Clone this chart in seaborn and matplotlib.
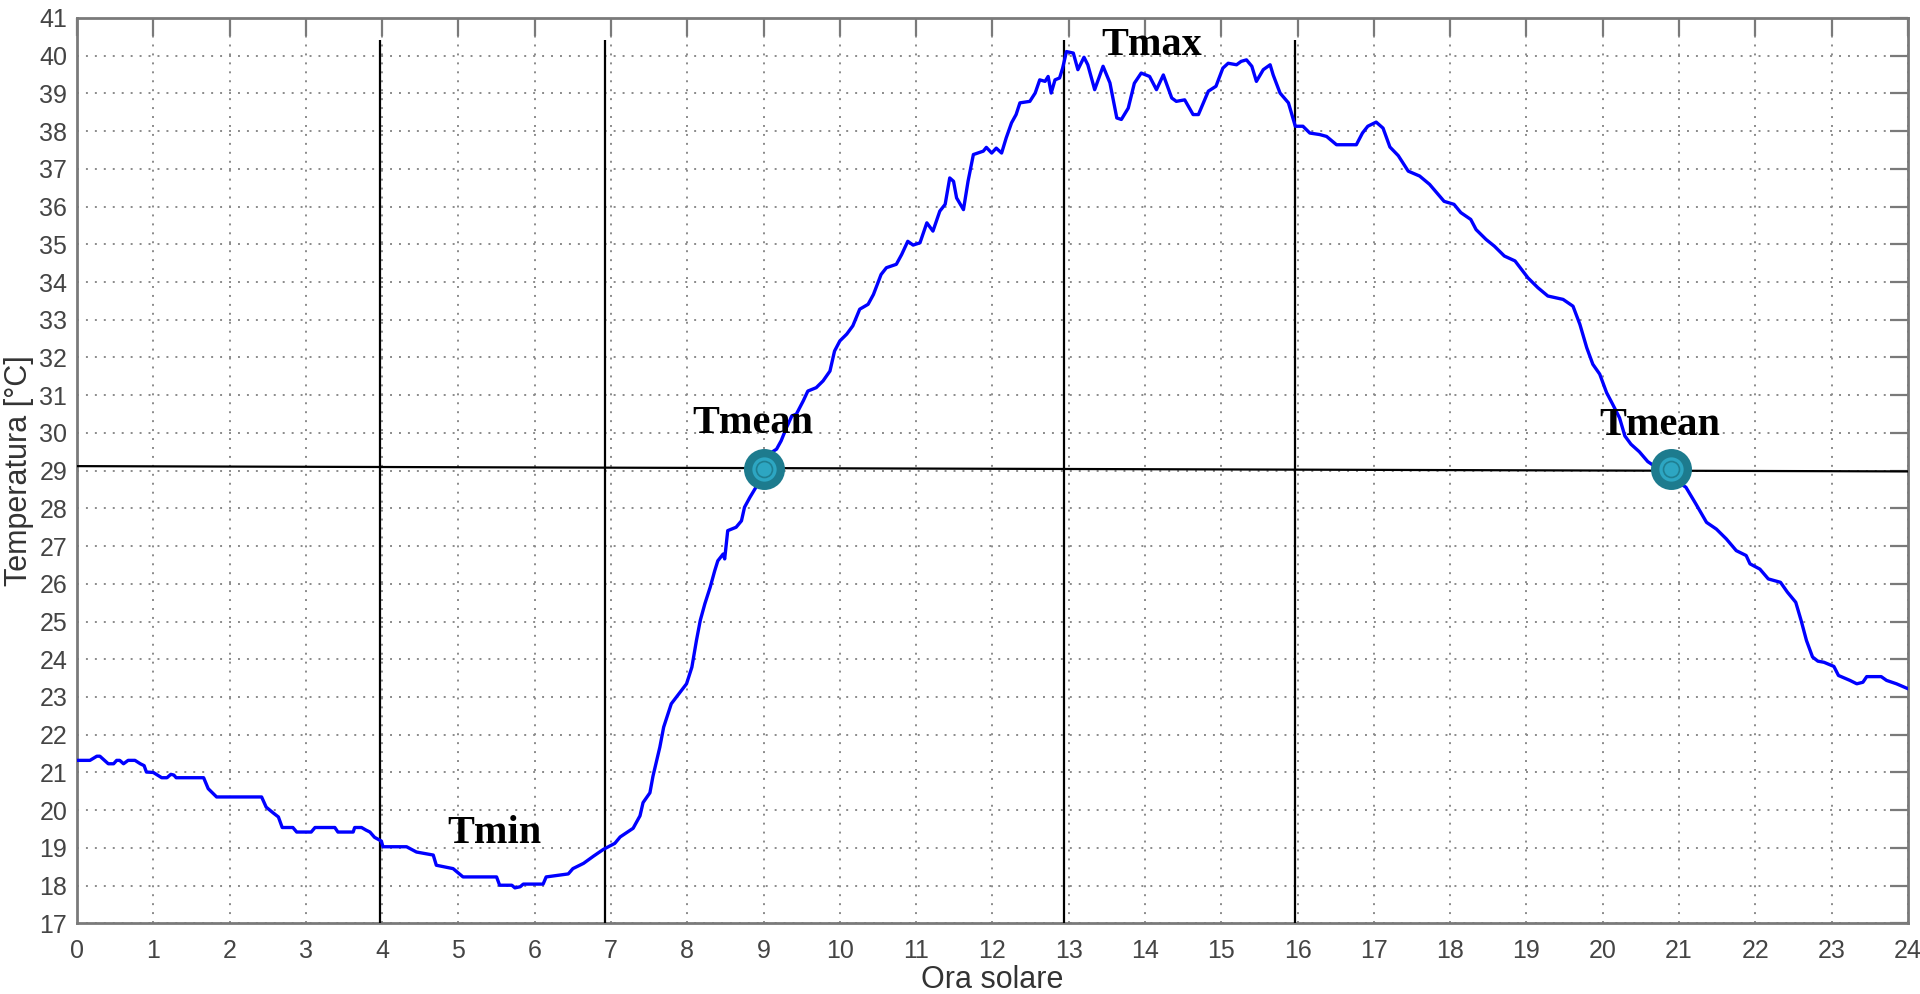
import numpy as np
import pandas as pd
import matplotlib
matplotlib.use("Agg")
import matplotlib.pyplot as plt
import seaborn as sns

# Daily air temperature profile (solar time, hours) and reference markers
hours = [
    0.00, 0.17, 0.26, 0.30, 0.41, 0.48, 0.52, 0.56, 0.61, 0.67, 0.76, 0.83, 0.88, 0.91,
    1.00, 1.11, 1.18, 1.23, 1.27, 1.30, 1.66, 1.72, 1.83, 2.42, 2.48, 2.57, 2.64, 2.69,
    2.83, 2.88, 3.07, 3.12, 3.38, 3.42, 3.62, 3.64, 3.73, 3.79, 3.84, 3.90, 3.99, 4.01,
    4.32, 4.45, 4.67, 4.71, 4.93, 5.06, 5.50, 5.54, 5.70, 5.74, 5.81, 5.85, 6.11, 6.15,
    6.44, 6.50, 6.64, 6.77, 6.90, 7.05, 7.12, 7.29, 7.38, 7.42, 7.51, 7.55, 7.64, 7.69,
    7.79, 7.99, 8.06, 8.12, 8.17, 8.23, 8.30, 8.36, 8.40, 8.47, 8.49, 8.53, 8.64, 8.71,
    8.75, 8.82, 8.90, 9.00, 9.10, 9.17, 9.23, 9.30, 9.37, 9.43, 9.52, 9.58, 9.69, 9.78,
    9.87, 9.93, 10.00, 10.09, 10.17, 10.26, 10.37, 10.44, 10.54, 10.61, 10.74, 10.81,
    10.89, 10.96, 11.05, 11.14, 11.22, 11.31, 11.38, 11.44, 11.49, 11.53, 11.62, 11.68,
    11.75, 11.88, 11.92, 11.99, 12.05, 12.12, 12.18, 12.25, 12.31, 12.36, 12.49, 12.56,
    12.62, 12.69, 12.73, 12.77, 12.82, 12.88, 12.92, 12.97, 13.06, 13.12, 13.20, 13.25,
    13.34, 13.45, 13.54, 13.63, 13.69, 13.78, 13.86, 13.95, 14.06, 14.15, 14.24, 14.35,
    14.41, 14.52, 14.63, 14.70, 14.83, 14.93, 15.02, 15.09, 15.20, 15.26, 15.33, 15.40,
    15.46, 15.55, 15.64, 15.68, 15.77, 15.88, 15.97, 16.07, 16.16, 16.29, 16.38, 16.51,
    16.77, 16.85, 16.92, 17.03, 17.12, 17.21, 17.32, 17.45, 17.60, 17.73, 17.92, 18.05,
    18.14, 18.27, 18.34, 18.47, 18.58, 18.71, 18.85, 19.02, 19.15, 19.28, 19.48, 19.61,
    19.70, 19.79, 19.87, 19.96, 20.05, 20.13, 20.22, 20.29, 20.37, 20.48, 20.59, 21.09,
    21.22, 21.36, 21.49, 21.62, 21.75, 21.88, 21.93, 22.06, 22.17, 22.33, 22.42, 22.53,
    22.60, 22.67, 22.75, 22.82, 22.90, 23.03, 23.09, 23.24, 23.33, 23.41, 23.46, 23.65,
    23.72, 23.85, 24.00,
]
temperature = [
    21.32, 21.32, 21.43, 21.43, 21.23, 21.23, 21.32, 21.32, 21.23, 21.32, 21.32, 21.23, 21.18, 21.01,
    21.00, 20.86, 20.86, 20.95, 20.93, 20.86, 20.86, 20.57, 20.35, 20.35, 20.08, 19.93, 19.82, 19.54,
    19.54, 19.42, 19.42, 19.54, 19.54, 19.42, 19.42, 19.54, 19.54, 19.47, 19.42, 19.28, 19.18, 19.03,
    19.03, 18.89, 18.81, 18.54, 18.45, 18.23, 18.23, 18.01, 18.01, 17.94, 17.97, 18.04, 18.04, 18.23,
    18.31, 18.45, 18.59, 18.78, 18.96, 19.12, 19.29, 19.52, 19.85, 20.20, 20.46, 20.90, 21.67, 22.20,
    22.82, 23.35, 23.79, 24.50, 25.03, 25.47, 25.91, 26.35, 26.61, 26.79, 26.66, 27.41, 27.50, 27.67,
    28.03, 28.29, 28.56, 29.00, 29.48, 29.57, 29.79, 30.14, 30.45, 30.50, 30.85, 31.11, 31.20, 31.38,
    31.64, 32.17, 32.44, 32.62, 32.84, 33.28, 33.41, 33.67, 34.20, 34.38, 34.47, 34.73,
    35.08, 34.98, 35.04, 35.57, 35.35, 35.88, 36.06, 36.76, 36.67, 36.23, 35.92, 36.67,
    37.38, 37.47, 37.57, 37.42, 37.55, 37.42, 37.82, 38.22, 38.44, 38.75, 38.79, 39.01,
    39.36, 39.32, 39.45, 39.01, 39.36, 39.41, 39.67, 40.11, 40.07, 39.63, 39.96, 39.76,
    39.10, 39.72, 39.28, 38.35, 38.31, 38.61, 39.27, 39.54, 39.45, 39.10, 39.49, 38.88,
    38.79, 38.83, 38.44, 38.44, 39.06, 39.19, 39.67, 39.80, 39.76, 39.85, 39.89, 39.72,
    39.32, 39.63, 39.76, 39.49, 39.01, 38.75, 38.13, 38.13, 37.95, 37.91, 37.86, 37.64,
    37.64, 37.95, 38.13, 38.24, 38.08, 37.58, 37.35, 36.94, 36.81, 36.59, 36.14, 36.06,
    35.84, 35.66, 35.39, 35.13, 34.95, 34.69, 34.56, 34.11, 33.85, 33.63, 33.54, 33.36,
    32.88, 32.26, 31.82, 31.56, 31.07, 30.76, 30.40, 29.92, 29.70, 29.50, 29.24, 28.56,
    28.12, 27.63, 27.45, 27.19, 26.88, 26.75, 26.53, 26.39, 26.13, 26.04, 25.78, 25.51,
    25.03, 24.50, 24.06, 23.95, 23.92, 23.81, 23.57, 23.44, 23.35, 23.39, 23.54, 23.54,
    23.44, 23.35, 23.22,
]

# Hours bracketing the Tmin / Tmax windows
window_hours = [3.97, 6.92, 12.94, 15.97]
window_top = 40.42
# Mean-temperature reference line (start / end level)
tmean_line_x = [0, 24]
tmean_line_y = [29.12, 28.98]
# Crossing points of the mean temperature
tmean_cross_hours = [9.0, 20.9]
tmean_cross_temp = [29.05, 29.05]

# Annotation labels: (text, hour, temperature of baseline)
label_text = ["Tmax", "Tmin", "Tmean", "Tmean"]
label_hour = [13.43, 4.85, 8.06, 19.96]
label_temp = [40.02, 19.13, 30.0, 29.94]

x_ticks = list(range(0, 25))
y_ticks = list(range(17, 42))

df = pd.DataFrame({"Ora solare": hours, "Temperatura": temperature})

sns.set_theme(style="white")
plt.rcParams["font.family"] = ["Liberation Sans", "DejaVu Sans"]

fig = plt.figure(figsize=(19.2, 9.94), dpi=100)
ax = fig.add_axes([0.0401, 0.0711, 0.9536, 0.9108])

spine_col = "#7a7a7a"
text_col = "#444444"

sns.lineplot(data=df, x="Ora solare", y="Temperatura", ax=ax, color="#0000ff",
             linewidth=2.4, zorder=4, sort=False)

# Dotted grid
ax.grid(True, which="major", color="#8a8a8a", linestyle=(0, (1.0, 3.6)), linewidth=1.4, zorder=0)

# Vertical window lines and the mean line
ax.vlines(window_hours, 17, window_top, colors="black", linewidth=1.6, zorder=3)
ax.plot(tmean_line_x, tmean_line_y, color="black", linewidth=1.6, zorder=3)

# Crossing markers (layered circles)
ax.scatter(tmean_cross_hours, tmean_cross_temp, s=29.5 ** 2, color="#1d7b8e", zorder=6, linewidths=0)
ax.scatter(tmean_cross_hours, tmean_cross_temp, s=17.5 ** 2, color="#2da6c2", zorder=7, linewidths=0)
ax.scatter(tmean_cross_hours, tmean_cross_temp, s=11.5 ** 2, color="#2da6c2", zorder=8,
           edgecolors="#1f7f92", linewidths=1.2)

for txt, hx, ty in zip(label_text, label_hour, label_temp):
    ax.text(hx, ty, txt, family=["Liberation Serif", "DejaVu Serif"], fontweight="bold",
            fontsize=29, color="black", ha="left", va="baseline", zorder=9)

ax.set_xlim(0, 24)
ax.set_ylim(17, 41)
ax.set_xticks(x_ticks)
ax.set_yticks(y_ticks)
ax.tick_params(axis="both", which="major", direction="in", length=13, width=1.6,
               color=spine_col, labelsize=18, labelcolor=text_col, top=True, right=True)
ax.tick_params(axis="x", pad=11)
ax.tick_params(axis="y", pad=7)
for sp in ax.spines.values():
    sp.set_visible(True)
    sp.set_color(spine_col)
    sp.set_linewidth(2.0)

ax.set_xlabel("Ora solare", fontsize=22, color="#333333", labelpad=2)
ax.set_ylabel("Temperatura [°C]", fontsize=22, color="#333333", labelpad=4)

fig.savefig("out.png", dpi=100)
